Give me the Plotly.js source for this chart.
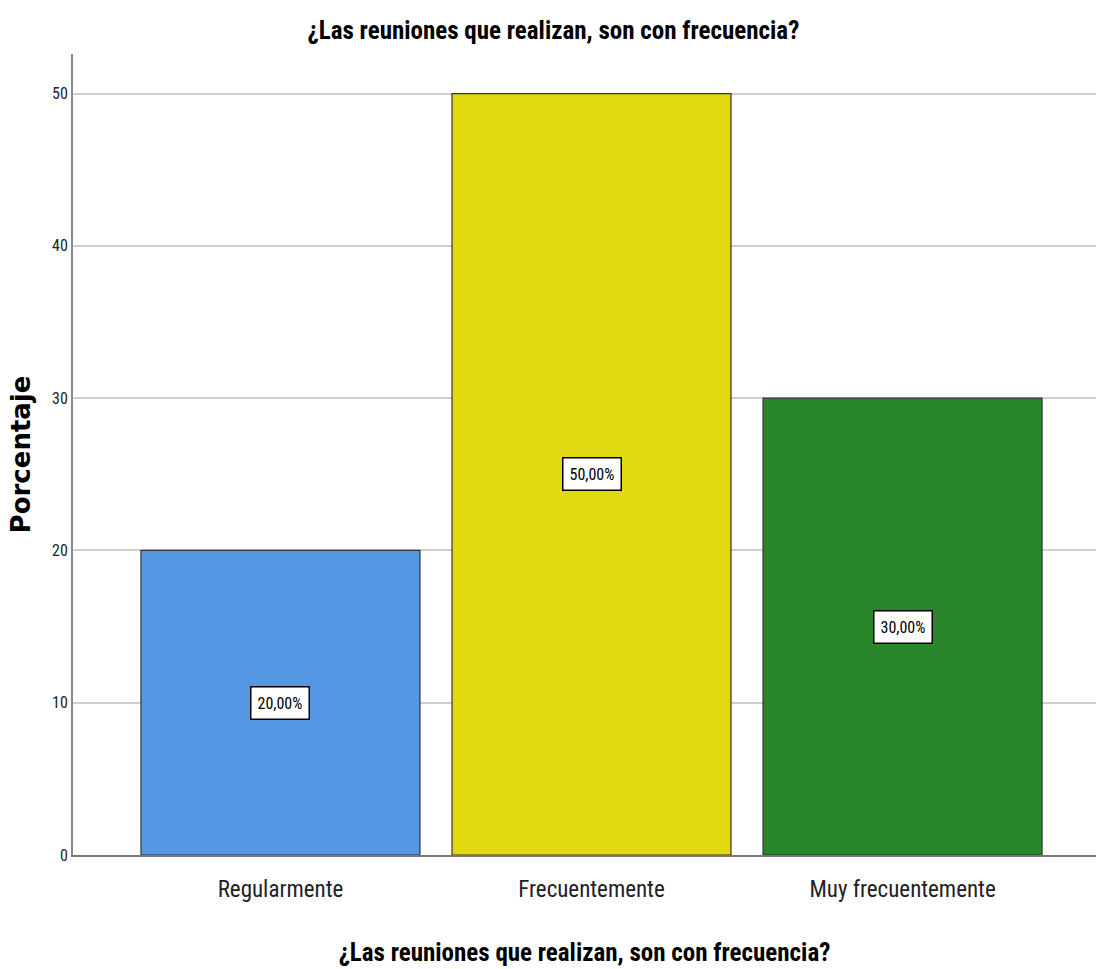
<!DOCTYPE html>
<html>
<head>
<meta charset="utf-8">
<script src="https://cdn.plot.ly/plotly-3.0.1.min.js"></script>
<style>html,body{margin:0;padding:0;background:#fff;}#chart{width:1096px;height:969px;}</style>
</head>
<body>
<div id="chart"></div>
<script>
const categories = ["Regularmente", "Frecuentemente", "Muy frecuentemente"];
const percentages = [20, 50, 30];
const valueLabels = ["20,00%", "50,00%", "30,00%"];
const barColors = ["#5596e5", "#e1d80f", "#2a862a"];
const yTicks = [0, 10, 20, 30, 40, 50];
const chartTitle = "¿Las reuniones que realizan, son con frecuencia?";
const yTitle = "Porcentaje";

const NARROW = "'Liberation Sans Narrow', 'Arial Narrow', 'Roboto Condensed', sans-serif";

const trace = {
  type: "bar",
  x: [0, 1, 2],
  y: percentages,
  width: 0.897,
  marker: { color: barColors, line: { color: "#333333", width: 1.2 } },
  hoverinfo: "none"
};

const annotations = percentages.map((v, i) => ({
  x: i, y: v / 2, xref: "x", yref: "y",
  text: valueLabels[i], showarrow: false,
  font: { family: NARROW, size: 16, color: "#000" },
  bgcolor: "#ffffff", bordercolor: "#000000", borderwidth: 1.5, borderpad: 6
}));

const layout = {
  width: 1096, height: 969,
  margin: { l: 73, r: 0, t: 54, b: 114 },
  paper_bgcolor: "#ffffff", plot_bgcolor: "#ffffff",
  showlegend: false,
  title: {
    text: "<b>" + chartTitle + "</b>",
    font: { family: NARROW, size: 25, color: "#000" },
    x: 0.505, xanchor: "center", y: 0.969, yanchor: "middle"
  },
  xaxis: {
    range: [-0.667, 2.622],
    tickmode: "array", tickvals: [0, 1, 2], ticktext: categories,
    tickfont: { family: NARROW, size: 23, color: "#222" },
    ticks: "", ticklen: 0, ticklabelstandoff: 12,
    showline: true, linecolor: "#777", linewidth: 2,
    showgrid: false, zeroline: false,
    title: { text: "<b>" + chartTitle + "</b>", font: { family: NARROW, size: 25, color: "#000" }, standoff: 42 }
  },
  yaxis: {
    range: [0, 52.6],
    tickmode: "array", tickvals: yTicks,
    tickfont: { family: NARROW, size: 16, color: "#222" },
    ticks: "outside", ticklen: 0, tickcolor: "#fff",
    showline: true, linecolor: "#888", linewidth: 2,
    showgrid: true, gridcolor: "#cfcfcf", gridwidth: 2,
    zeroline: false,
    title: { text: "<b>" + yTitle + "</b>", font: { family: "'DejaVu Sans', Verdana, sans-serif", size: 26, color: "#000" }, standoff: 14 }
  },
  annotations: annotations
};

Plotly.newPlot("chart", [trace], layout, { displayModeBar: false, staticPlot: true });
</script>
</body>
</html>
